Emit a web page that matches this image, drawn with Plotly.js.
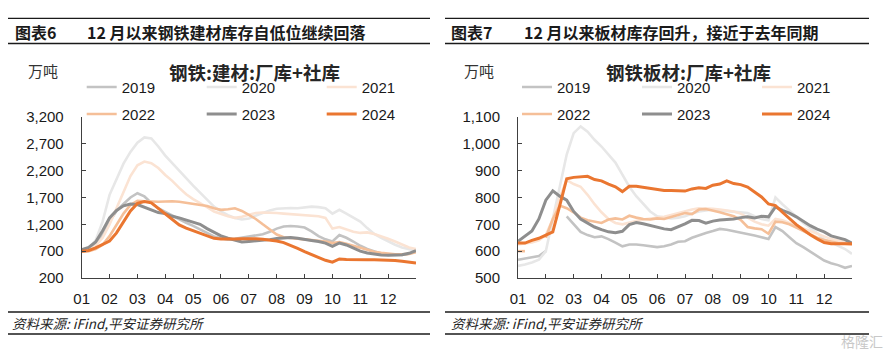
<!DOCTYPE html>
<html>
<head>
<meta charset="utf-8">
<script src="https://cdn.plot.ly/plotly-3.0.1.min.js"></script>
<style>
  html, body { margin: 0; padding: 0; background: #ffffff; }
  #chart { width: 884px; height: 352px; }
</style>
</head>
<body>
<div id="chart"></div>
<script>
// ---------- DATA ----------
// x grid: quarter-month steps from start of Jan (0) to end of Dec (12)
const monthLabels = ['01','02','03','04','05','06','07','08','09','10','11','12'];
const years = ['2019','2020','2021','2022','2023','2024'];

// 钢铁:建材:厂库+社库 (万吨)
const rebar2019 = [700,740,830,1000,1250,1450,1580,1700,1780,1720,1600,1500,1430,1360,1300,1230,1170,1100,1040,975,940,915,930,950,965,990,1015,1060,1120,1160,1170,1160,1140,1070,980,920,880,1000,950,880,800,740,690,650,630,625,630,650,690];
const rebar2020 = [700,760,900,1250,1750,2050,2330,2550,2720,2820,2800,2650,2480,2340,2200,2040,1920,1790,1650,1530,1440,1370,1320,1290,1310,1360,1420,1460,1490,1500,1505,1500,1510,1530,1520,1500,1400,1470,1400,1330,1250,1130,1020,950,880,820,770,740,710];
const rebar2021 = [690,720,800,950,1200,1500,1800,2100,2300,2370,2340,2250,2120,2010,1880,1760,1670,1600,1520,1440,1390,1350,1320,1340,1380,1410,1420,1420,1410,1400,1390,1390,1380,1370,1350,1320,1120,1150,1100,1060,1040,1050,1020,980,930,880,820,770,740];
const rebar2022 = [690,700,740,820,980,1200,1400,1560,1640,1630,1620,1620,1625,1630,1620,1600,1570,1560,1540,1500,1470,1480,1500,1450,1380,1300,1200,1100,1010,960,940,930,920,910,900,880,850,870,840,800,760,720,690,670,650,640,640,650,680];
const rebar2023 = [728,770,870,1080,1320,1460,1545,1580,1570,1520,1460,1420,1400,1350,1320,1280,1250,1200,1120,1050,985,940,900,870,880,890,900,915,935,950,955,940,915,900,880,850,790,852,815,760,700,665,645,630,622,625,635,660,710];
const rebar2024 = [697,712,760,820,890,1040,1250,1450,1590,1625,1600,1500,1400,1290,1190,1130,1080,1030,980,940,925,920,925,930,935,930,920,905,890,860,810,750,690,635,575,530,495,555,545,540,540,540,540,538,535,528,510,490,480];

// 钢铁板材:厂库+社库 (万吨)
const plate2019 = [568,572,578,582,600,null,null,730,700,672,660,652,655,645,632,618,625,625,622,618,615,618,625,635,637,650,660,668,675,683,680,675,670,665,658,652,645,690,675,652,630,615,598,580,565,555,548,538,545];
const plate2020 = [545,550,558,568,600,720,850,960,1040,1065,1045,1015,990,960,930,885,840,805,775,748,730,725,722,725,730,740,748,752,755,752,750,748,745,742,730,720,715,800,775,750,728,705,688,668,645,632,620,608,590];
const plate2021 = [625,628,632,640,660,720,800,865,850,840,810,775,745,720,705,700,705,712,718,722,725,728,735,742,748,755,760,760,758,755,752,748,740,725,710,700,695,720,715,705,695,685,675,665,655,645,640,635,630];
const plate2022 = [600,600,null,null,650,720,770,760,745,725,715,710,705,718,722,718,732,725,720,718,722,720,728,735,742,738,755,757,752,745,738,730,717,690,685,682,665,710,708,700,688,675,662,650,642,635,630,628,625];
const plate2023 = [637,655,675,720,790,825,805,790,748,720,706,690,680,672,669,674,699,707,702,695,688,683,680,690,702,715,714,704,712,716,718,720,725,728,724,730,728,765,752,742,728,710,695,682,672,657,650,643,630];
const plate2024 = [630,630,640,648,660,672,770,870,875,877,879,867,862,850,840,822,842,842,838,832,830,826,826,825,824,832,836,834,846,850,862,852,848,839,822,802,776,770,745,722,699,680,661,646,632,628,628,629,628];

const xGrid = rebar2024.map((_, i) => i / 4);

// ---------- STYLE ----------
const W = 884, H = 352;
const px = v => v / W;
const py = v => 1 - v / H;
const FONT = 'Liberation Sans, Noto Sans CJK SC, sans-serif';
const CJK = 'Noto Sans CJK SC, Liberation Sans, sans-serif';

const colors = {
  '2019': '#c3c3c3',
  '2020': '#e7e7e7',
  '2021': '#fbe3d3',
  '2022': '#f5bf98',
  '2023': '#8e8e8e',
  '2024': '#ea7630'
};
const widths = { '2019': 2.6, '2020': 2.6, '2021': 2.6, '2022': 2.6, '2023': 3, '2024': 3 };

const rebar = [rebar2019, rebar2020, rebar2021, rebar2022, rebar2023, rebar2024];
const plate = [plate2019, plate2020, plate2021, plate2022, plate2023, plate2024];

const traces = [];
years.forEach((yr, i) => {
  traces.push({
    type: 'scatter', mode: 'lines', name: yr,
    x: xGrid, y: rebar[i], xaxis: 'x', yaxis: 'y',
    line: { color: colors[yr], width: widths[yr] },
    connectgaps: false,
    legend: i < 3 ? 'legend' : 'legend2',
    hoverinfo: 'skip'
  });
});
years.forEach((yr, i) => {
  traces.push({
    type: 'scatter', mode: 'lines', name: yr,
    x: xGrid, y: plate[i], xaxis: 'x2', yaxis: 'y2',
    line: { color: colors[yr], width: widths[yr] },
    connectgaps: false,
    legend: i < 3 ? 'legend3' : 'legend4',
    hoverinfo: 'skip'
  });
});

const axisColor = '#404040';
const xCommon = {
  range: [0, 12],
  tickmode: 'array',
  tickvals: monthLabels.map((_, i) => i).concat([12]),
  ticktext: monthLabels.concat(['']),
  ticks: 'inside', ticklen: 4, tickcolor: axisColor, tickwidth: 1,
  showline: true, linecolor: axisColor, linewidth: 1,
  showgrid: false, zeroline: false,
  tickfont: { family: FONT, size: 15, color: '#1a1a1a' },
  ticklabelstandoff: 7,
  fixedrange: true
};
const yCommon = {
  ticks: 'inside', ticklen: 4, tickcolor: axisColor, tickwidth: 1,
  showline: true, linecolor: axisColor, linewidth: 1,
  showgrid: false, zeroline: false,
  tickformat: ',d',
  tickfont: { family: FONT, size: 15, color: '#1a1a1a' },
  ticklabelstandoff: 14,
  fixedrange: true
};

const yDom = [py(278), py(117)];

function legendAt(xPix, yPix) {
  return {
    x: px(xPix), xanchor: 'left', y: py(yPix), yanchor: 'middle',
    orientation: 'h', entrywidth: 75, entrywidthmode: 'pixels',
    bgcolor: 'rgba(0,0,0,0)', borderwidth: 0,
    font: { family: FONT, size: 15, color: '#1a1a1a' },
    itemclick: false, itemdoubleclick: false, traceorder: 'normal'
  };
}

const headerFont = { family: CJK, size: 16, color: '#1a1a1a', weight: 'bold' };
const annotations = [
  { text: '<b>图表6</b>', x: px(13), y: py(32.5), xanchor: 'left', yanchor: 'middle', font: headerFont },
  { text: '<b>12 月以来钢铁建材库存自低位继续回落</b>', x: px(85), y: py(32.5), xanchor: 'left', yanchor: 'middle', font: headerFont },
  { text: '<b>图表7</b>', x: px(449), y: py(32.5), xanchor: 'left', yanchor: 'middle', font: headerFont },
  { text: '<b>12 月以来板材库存回升，接近于去年同期</b>', x: px(522), y: py(32.5), xanchor: 'left', yanchor: 'middle', font: headerFont },
  { text: '万吨', x: px(42.5), y: py(70), xanchor: 'center', yanchor: 'middle', font: { family: CJK, size: 15, color: '#333333' } },
  { text: '万吨', x: px(479), y: py(70), xanchor: 'center', yanchor: 'middle', font: { family: CJK, size: 15, color: '#333333' } },
  { text: '<b>钢铁:建材:厂库+社库</b>', x: px(255), y: py(72), xanchor: 'center', yanchor: 'middle', font: { family: CJK, size: 18.5, color: '#262626' } },
  { text: '<b>钢铁板材:厂库+社库</b>', x: px(688), y: py(72), xanchor: 'center', yanchor: 'middle', font: { family: CJK, size: 18.5, color: '#262626' } },
  { text: '资料来源: iFind,平安证券研究所', x: px(10), y: py(323), xanchor: 'left', yanchor: 'middle', font: { family: CJK, size: 13.5, color: '#262626', style: 'italic' } },
  { text: '资料来源: iFind,平安证券研究所', x: px(449), y: py(323), xanchor: 'left', yanchor: 'middle', font: { family: CJK, size: 13.5, color: '#262626', style: 'italic' } },
  { text: '格隆汇', x: px(862), y: py(341), xanchor: 'center', yanchor: 'middle', font: { family: CJK, size: 14, color: '#c8c8c8' } }
].map(a => Object.assign({ xref: 'paper', yref: 'paper', showarrow: false }, a));

function hline(x0, x1, y) {
  return { type: 'line', xref: 'paper', yref: 'paper', x0: px(x0), x1: px(x1), y0: py(y), y1: py(y), line: { color: '#1a1a1a', width: 1.3 } };
}
const shapes = [
  hline(8, 430, 18.3), hline(8, 430, 43.5), hline(8, 430, 312), hline(8, 430, 334),
  hline(445, 869, 18.3), hline(445, 869, 43.5), hline(445, 869, 312), hline(445, 869, 334)
];

const layout = {
  width: W, height: H,
  margin: { l: 0, r: 0, t: 0, b: 0, pad: 0, autoexpand: false },
  paper_bgcolor: '#ffffff', plot_bgcolor: '#ffffff',
  font: { family: FONT, color: '#1a1a1a' },
  showlegend: true,
  xaxis: Object.assign({}, xCommon, { domain: [px(81.7), px(416)], anchor: 'y' }),
  yaxis: Object.assign({}, yCommon, { domain: yDom, range: [200, 3200], tick0: 200, dtick: 500, anchor: 'x' }),
  xaxis2: Object.assign({}, xCommon, { domain: [px(518), px(852)], anchor: 'y2' }),
  yaxis2: Object.assign({}, yCommon, { domain: yDom, range: [500, 1100], tick0: 500, dtick: 100, anchor: 'x2' }),
  legend: legendAt(81.7, 87.3),
  legend2: legendAt(81.7, 114.3),
  legend3: legendAt(517, 87.3),
  legend4: legendAt(517, 114.3),
  annotations: annotations,
  shapes: shapes
};

Plotly.newPlot('chart', traces, layout, { displayModeBar: false, staticPlot: true });
</script>
</body>
</html>
